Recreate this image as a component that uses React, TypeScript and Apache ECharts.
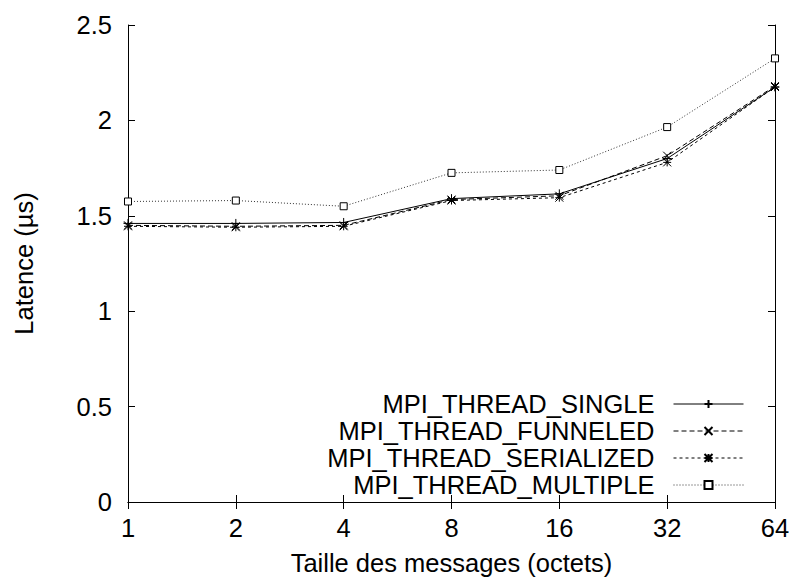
import React, { useEffect, useRef } from "react";
import * as echarts from "echarts";

const categories = ["1", "2", "4", "8", "16", "32", "64"];
const singleValues = [1.46, 1.46, 1.465, 1.59, 1.615, 1.8, 2.175];
const funneledValues = [1.45, 1.445, 1.45, 1.585, 1.605, 1.815, 2.18];
const serializedValues = [1.445, 1.44, 1.445, 1.58, 1.595, 1.78, 2.175];
const multipleValues = [1.575, 1.58, 1.55, 1.725, 1.74, 1.965, 2.325];
const seriesNames = [
  "MPI_THREAD_SINGLE",
  "MPI_THREAD_FUNNELED",
  "MPI_THREAD_SERIALIZED",
  "MPI_THREAD_MULTIPLE",
];

const FONT = "Liberation Sans";
const FS = 25.5;

export default function App() {
  const ref = useRef<HTMLDivElement>(null);
  useEffect(() => {
    if (!ref.current) return;
    const chart = echarts.init(ref.current, undefined, { renderer: "svg" });
    const strokeItem = { color: "none", borderColor: "#000", borderWidth: 1 };
    const mk = (
      name: string,
      data: number[],
      symbol: string,
      size: number,
      lineType: any,
      itemStyle: any,
      color = "#000"
    ) => ({
      name,
      type: "line",
      data,
      symbol,
      symbolSize: size,
      showSymbol: true,
      lineStyle: { color, width: 1, type: lineType },
      itemStyle,
      emphasis: { disabled: true },
      z: 2,
    });
    chart.setOption({
      animation: false,
      backgroundColor: "#fff",
      textStyle: { fontFamily: FONT, color: "#000" },
      grid: {
        left: 128,
        top: 25,
        right: 14,
        bottom: 76,
        containLabel: false,
        outerBoundsMode: "none",
      },
      legend: {
        orient: "vertical",
        align: "right",
        right: 45,
        top: 391,
        padding: 0,
        itemGap: 1,
        itemWidth: 70,
        itemHeight: 10,
        selectedMode: false,
        data: seriesNames,
        lineStyle: { width: 1 },
        textStyle: {
          fontFamily: FONT,
          fontSize: FS,
          lineHeight: 25.5,
          color: "#000",
          padding: [0, 14, 0, 0],
        },
      },
      xAxis: [
        {
          type: "category",
          data: categories,
          boundaryGap: false,
          position: "bottom",
          name: "Taille des messages (octets)",
          nameLocation: "middle",
          nameGap: 48,
          nameTextStyle: { fontFamily: FONT, fontSize: FS, color: "#000", lineHeight: 25 },
          axisLine: { lineStyle: { color: "#000", width: 1 } },
          axisTick: { inside: true, length: 7, lineStyle: { color: "#000" } },
          axisLabel: { fontFamily: FONT, fontSize: FS, color: "#000", margin: 13 },
          splitLine: { show: false },
        },
        {
          type: "category",
          data: categories,
          boundaryGap: false,
          position: "top",
          axisLine: { lineStyle: { color: "#000", width: 1 } },
          axisTick: { inside: true, length: 7, lineStyle: { color: "#000" } },
          axisLabel: { show: false },
          splitLine: { show: false },
        },
      ],
      yAxis: [
        {
          type: "value",
          min: 0,
          max: 2.5,
          interval: 0.5,
          position: "left",
          name: "Latence (µs)",
          nameLocation: "middle",
          nameGap: 91,
          nameRotate: 90,
          nameTextStyle: { fontFamily: FONT, fontSize: FS, color: "#000" },
          axisLine: { show: true, lineStyle: { color: "#000", width: 1 } },
          axisTick: { show: true, inside: true, length: 7, lineStyle: { color: "#000" } },
          axisLabel: { fontFamily: FONT, fontSize: FS, color: "#000", margin: 16 },
          splitLine: { show: false },
        },
        {
          type: "value",
          min: 0,
          max: 2.5,
          interval: 0.5,
          position: "right",
          axisLine: { show: true, lineStyle: { color: "#000", width: 1 } },
          axisTick: { show: true, inside: true, length: 7, lineStyle: { color: "#000" } },
          axisLabel: { show: false },
          splitLine: { show: false },
        },
      ],
      series: [
        mk(seriesNames[0], singleValues, "path://M5,0L5,10M0,5L10,5", 9, "solid", strokeItem),
        mk(seriesNames[1], funneledValues, "path://M0,0L10,10M10,0L0,10", 8, [5, 3], strokeItem),
        mk(
          seriesNames[2],
          serializedValues,
          "path://M5,0L5,10M0,5L10,5M0,0L10,10M10,0L0,10",
          8,
          [3, 3],
          strokeItem
        ),
        mk(seriesNames[3], multipleValues, "rect", 7, [1, 2], {
          color: "#fff",
          borderColor: "#000",
          borderWidth: 1,
        }, "#333"),
      ],
    });
    return () => chart.dispose();
  }, []);
  return (
    <div
      ref={ref}
      style={{ position: "fixed", left: 0, top: 0, width: 789, height: 578 }}
    />
  );
}
